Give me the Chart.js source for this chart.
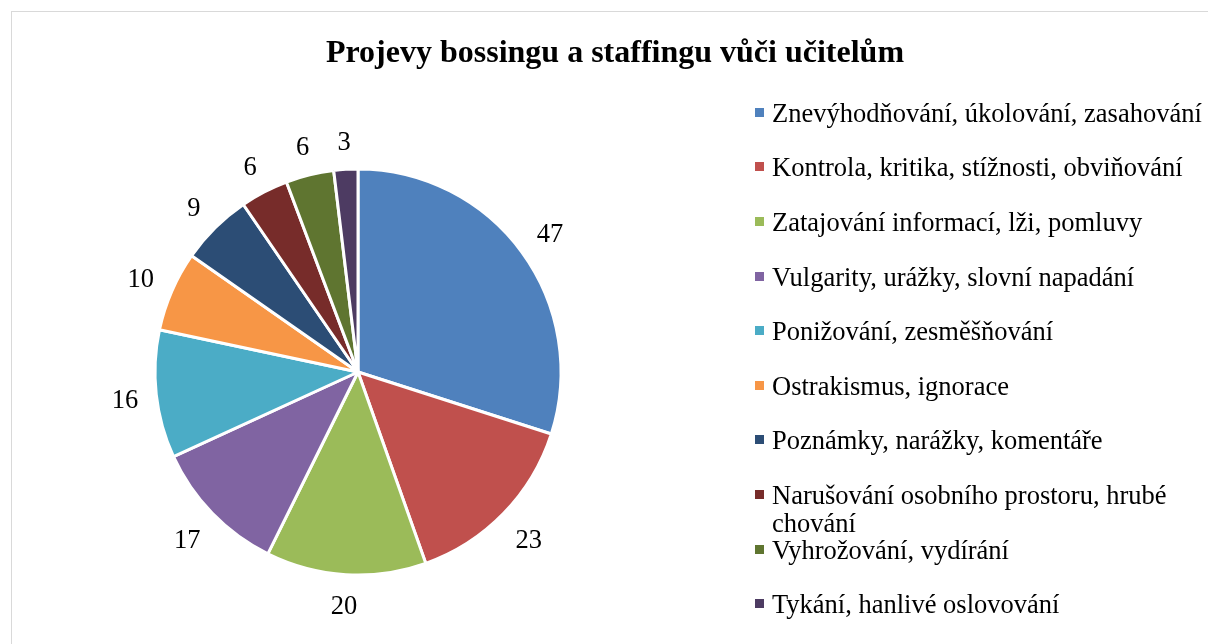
<!DOCTYPE html>
<html lang="cs">
<head>
<meta charset="utf-8">
<title>Projevy bossingu a staffingu vůči učitelům</title>
<script src="https://cdn.jsdelivr.net/npm/chart.js@4.4.1/dist/chart.umd.min.js"></script>
<style>
  html, body { margin: 0; padding: 0; background: #fff; overflow: hidden; }
  #wrap { position: relative; width: 1208px; height: 644px; overflow: hidden; }
  #frame { position: absolute; left: 11px; top: 11px; width: 1300px; height: 700px; border: 1.5px solid #d9d9d9; box-sizing: border-box; }
  #pieChart { position: absolute; left: 0; top: 0; }
  #title { position: absolute; left: 615px; top: 35px; transform: translateX(-50%); white-space: nowrap;
    font: bold 32px/32px "Liberation Serif", "Times New Roman", serif; color: #000; }
  .legend-item { position: absolute; left: 772px; width: 445px;
    font: 26.5px/28px "Liberation Serif", "Times New Roman", serif; color: #000; }
  .legend-box { position: absolute; left: -17px; top: 9px; width: 9px; height: 9px; }
</style>
</head>
<body>
<div id="wrap">
  <div id="frame"></div>
  <canvas id="pieChart" width="1208" height="644"></canvas>
  <div id="title">Projevy bossingu a staffingu vůči učitelům</div>
  <div id="legend"></div>
</div>
<script>
const categories = [
  'Znevýhodňování, úkolování, zasahování',
  'Kontrola, kritika, stížnosti, obviňování',
  'Zatajování informací, lži, pomluvy',
  'Vulgarity, urážky, slovní napadání',
  'Ponižování, zesměšňování',
  'Ostrakismus, ignorace',
  'Poznámky, narážky, komentáře',
  'Narušování osobního prostoru, hrubé chování',
  'Vyhrožování, vydírání',
  'Tykání, hanlivé oslovování'
];
const counts = [47, 23, 20, 17, 16, 10, 9, 6, 6, 3];
const sliceColors = [
  '#4F81BD', '#C0504D', '#9BBB59', '#8064A2', '#4BACC6',
  '#F79646', '#2C4D75', '#772C2A', '#5F7530', '#4D3B62'
];

const labelFont = '26.5px "Liberation Serif", "Times New Roman", serif';

// draws the value next to each slice, outside the pie
const outsideLabels = {
  id: 'outsideLabels',
  afterDatasetsDraw(chart) {
    const ctx = chart.ctx;
    const meta = chart.getDatasetMeta(0);
    ctx.save();
    ctx.font = labelFont;
    ctx.fillStyle = '#000';
    ctx.textAlign = 'center';
    ctx.textBaseline = 'middle';
    meta.data.forEach((arc, i) => {
      const p = arc.getProps(['x', 'y', 'startAngle', 'endAngle', 'outerRadius'], true);
      const mid = (p.startAngle + p.endAngle) / 2;
      const dx = Math.cos(mid);
      const dy = Math.sin(mid);
      const text = String(counts[i]);
      const w = ctx.measureText(text).width;
      const h = 24;
      const dist = p.outerRadius + 17 + Math.abs(dx) * w / 2 + Math.abs(dy) * h / 2;
      ctx.fillText(text, p.x + dx * dist, p.y + dy * dist + 3);
    });
    ctx.restore();
  }
};

function buildLegend() {
  const legend = document.getElementById('legend');
  categories.forEach((name, i) => {
    const item = document.createElement('div');
    item.className = 'legend-item';
    item.style.top = (98.7 + i * 54.6) + 'px';
    const box = document.createElement('span');
    box.className = 'legend-box';
    box.style.background = sliceColors[i];
    item.appendChild(box);
    item.appendChild(document.createTextNode(name));
    legend.appendChild(item);
  });
}

function initChart() {
  const ctx = document.getElementById('pieChart').getContext('2d');
  new Chart(ctx, {
    type: 'pie',
    data: {
      labels: categories,
      datasets: [{
        data: counts,
        backgroundColor: sliceColors,
        borderColor: '#fff',
        borderWidth: 3,
        hoverOffset: 0
      }]
    },
    options: {
      responsive: false,
      animation: false,
      radius: 203,
      layout: { padding: { left: 100, right: 592, top: 120, bottom: 20 } },
      plugins: {
        legend: { display: false },
        title: { display: false },
        tooltip: { enabled: false }
      }
    },
    plugins: [outsideLabels]
  });
}

buildLegend();
initChart();
</script>
</body>
</html>
